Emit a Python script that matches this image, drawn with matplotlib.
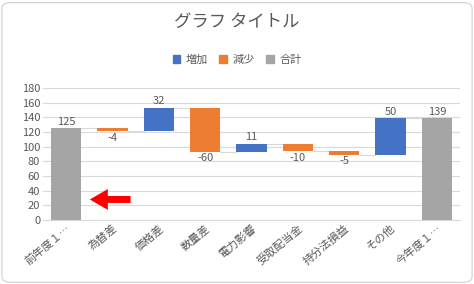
import matplotlib.pyplot as plt
from matplotlib.patches import FancyBboxPatch, Patch
import numpy as np

plt.rcParams['font.family'] = ['Noto Sans CJK JP', 'DejaVu Sans']

categories = ['前年度１…', '為替差', '価格差', '数量差', '電力影響', '受取配当金', '持分法損益', 'その他', '今年度１…']
values = [125, -4, 32, -60, 11, -10, -5, 50, 139]
is_total = [True, False, False, False, False, False, False, False, True]

BLUE, ORANGE, GRAY = '#4472C4', '#ED7D31', '#A5A5A5'
TXT = '#595959'

fig = plt.figure(figsize=(4.74, 2.84), dpi=100)
ax = fig.add_axes([43 / 474, 1 - 220 / 284, 417 / 474, 132 / 284])

# waterfall: compute bottoms / tops
bottoms, heights, colors = [], [], []
level = 0
for v, tot in zip(values, is_total):
    if tot:
        bottoms.append(0); heights.append(v); colors.append(GRAY)
        level = v
    else:
        if v >= 0:
            bottoms.append(level); heights.append(v); colors.append(BLUE)
        else:
            bottoms.append(level + v); heights.append(-v); colors.append(ORANGE)
        level += v

x = np.arange(len(categories))
ax.bar(x, heights, bottom=bottoms, width=0.65, color=colors, zorder=3)

# connector lines
level = 0
for i, (v, tot) in enumerate(zip(values, is_total)):
    level = v if tot else level + v
    if i < len(values) - 1:
        ax.plot([i + 0.325, i + 1 - 0.325], [level, level], color='#D9D9D9', lw=0.8, zorder=2)

# labels
for i, (v, b, h) in enumerate(zip(values, bottoms, heights)):
    if v >= 0:
        ax.text(i, b + h + 2, str(v), ha='center', va='bottom', fontsize=8, color=TXT)
    else:
        ax.text(i, b - 2, str(v), ha='center', va='top', fontsize=8, color=TXT)

ax.set_ylim(0, 180)
ax.set_xlim(-0.5, len(categories) - 0.5)
ax.set_yticks(range(0, 181, 20))
ax.yaxis.grid(True, color='#D9D9D9', lw=0.8, zorder=0)
ax.set_axisbelow(True)
for s in ['top', 'right', 'left']:
    ax.spines[s].set_visible(False)
ax.spines['bottom'].set_color('#D9D9D9')
ax.tick_params(axis='both', length=0, labelsize=8, colors=TXT, pad=2)
ax.set_xticks(x)
ax.set_xticklabels(categories, rotation=40, ha='right', rotation_mode='anchor')

# red arrow
ax.annotate('', xy=(0.45, 28), xytext=(1.45, 28),
            arrowprops=dict(arrowstyle='simple,head_length=1.3,head_width=1.5,tail_width=0.5',
                            color='#FF0000', lw=0))

fig.text(0.5, 1 - 22 / 284, 'グラフ タイトル', ha='center', va='center', fontsize=12.5, color=TXT)

handles = [Patch(color=BLUE), Patch(color=ORANGE), Patch(color=GRAY)]
fig.legend(handles, ['増加', '減少', '合計'], loc='center', bbox_to_anchor=(0.5, 1 - 60 / 284),
           ncol=3, frameon=False, fontsize=8, labelcolor=TXT, handlelength=0.7, handleheight=0.7,
           handletextpad=0.5, columnspacing=1.0)

fig.patches.append(FancyBboxPatch((0.004, 0.006), 0.992, 0.985, boxstyle='round,pad=0,rounding_size=0.02',
                                  transform=fig.transFigure, fill=False, edgecolor='#D0D0D0', lw=0.8))

fig.savefig('out.png', dpi=100)
